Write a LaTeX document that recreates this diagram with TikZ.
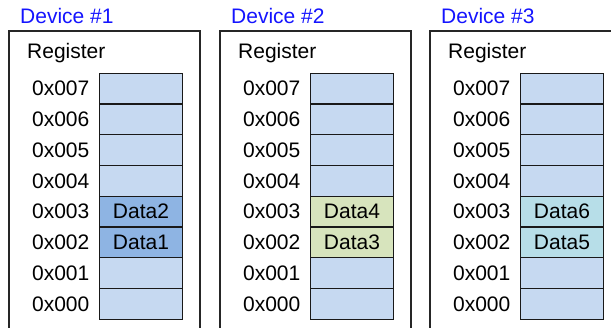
\documentclass[tikz,border=0pt]{standalone}
\usepackage{fontspec}
\setmainfont{Liberation Sans}
\definecolor{cellblue}{HTML}{C6D9F1}
\definecolor{darkblue}{HTML}{8EB4E3}
\definecolor{cellgreen}{HTML}{D7E4BD}
\definecolor{celltea}{HTML}{B7DEE8}
\definecolor{devblue}{HTML}{1414FF}
\begin{document}
\begin{tikzpicture}[x=1pt,y=-1pt,
  every node/.style={font=\fontsize{21}{24}\selectfont, inner sep=0pt},
  devbox/.style={draw=black!85, line width=1.4pt},
  cell/.style={draw=black!90, line width=1.3pt, fill=cellblue, minimum width=83.4pt, minimum height=30.75pt},
  addr/.style={anchor=east},
  devtitle/.style={anchor=base west, text=devblue},
  regtitle/.style={anchor=base west}]
\useasboundingbox (0,0) rectangle (611,327);
\foreach \d/\bx/\bxr/\cx/\lx/\fa/\fb/\da/\db in {1/9/200/141/89.5/darkblue/darkblue/Data2/Data1, 2/220/411/352/300.5/cellgreen/cellgreen/Data4/Data3, 3/430/620/562/510.5/celltea/celltea/Data6/Data5}{
  \draw[devbox] (\bx,330) -- (\bx,31) -- (\bxr,31) -- (\bxr,330);
  \node[devtitle] (dev\d) at (\bx+11,23.3) {Device \#\d};
  \node[regtitle] (reg\d) at (\bx+18,58.3) {Register};
  \foreach \i/\a in {0/7,1/6,2/5,3/4,6/1,7/0}{
    \node[cell] (c\d-\a) at (\cx,{73.3+30.75*(\i+0.5)}) {};
    \node[addr] (l\d-\a) at (\lx,{73.3+30.75*(\i+0.5)}) {0x00\a};
  }
  \node[cell, fill=\fa] (c\d-3) at (\cx,{73.3+30.75*4.5}) {\da};
  \node[addr] (l\d-3) at (\lx,{73.3+30.75*4.5}) {0x003};
  \node[cell, fill=\fb] (c\d-2) at (\cx,{73.3+30.75*5.5}) {\db};
  \node[addr] (l\d-2) at (\lx,{73.3+30.75*5.5}) {0x002};
}
\end{tikzpicture}
\end{document}
